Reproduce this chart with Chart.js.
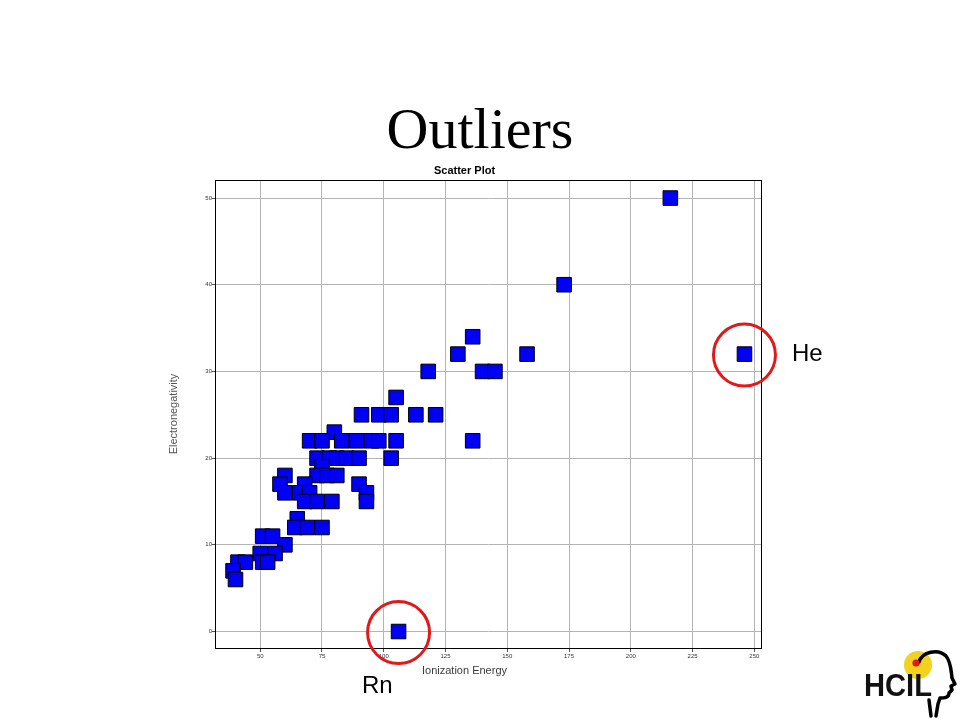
<!DOCTYPE html>
<html>
<head>
<meta charset="utf-8">
<script src="https://cdn.jsdelivr.net/npm/chart.js@4/dist/chart.umd.min.js"></script>
<style>
  html, body { margin: 0; padding: 0; background: #ffffff; }
  #wrap { position: relative; width: 960px; height: 720px; overflow: hidden; background: #fff; }
  #c { position: absolute; left: 0; top: 0; }
  .slide-title { position: absolute; left: 0; top: 100px; width: 960px; text-align: center;
    font-family: "Liberation Serif", "Times New Roman", serif; font-size: 58px; line-height: 58px; color: #000; }
  .note { position: absolute; font-family: "Liberation Sans", Arial, sans-serif; font-size: 24px; line-height: 24px; color: #000; }
  #logo { position: absolute; left: 858px; top: 640px; }
</style>
</head>
<body>
<div id="wrap">
  <div class="slide-title">Outliers</div>
  <canvas id="c" width="960" height="720"></canvas>
  <div class="note" style="left:792px; top:341px;">He</div>
  <div class="note" style="left:362px; top:673px;">Rn</div>
  <svg id="logo" width="102" height="80" viewBox="0 0 102 80">
    <circle cx="60" cy="25" r="14" fill="#f2d21c"/>
    <path d="M61 22 C 64 12, 80 8, 88 16 C 93 22, 93 30, 94 38 L 97 44 L 93 46 L 94 50 L 91 53 C 91 58, 86 58, 82 58 L 80 64 L 78 76"
          fill="none" stroke="#000" stroke-width="3.5" stroke-linejoin="round" stroke-linecap="round"/>
    <path d="M71 60 L 73 76" fill="none" stroke="#000" stroke-width="3.5" stroke-linecap="round"/>
    <text x="6" y="56" font-family="Liberation Sans, Arial, sans-serif" font-weight="bold" font-size="31"
          textLength="68" lengthAdjust="spacingAndGlyphs" fill="#111">HCIL</text>
    <circle cx="58" cy="23" r="3.6" fill="#e01818"/>
  </svg>
</div>
<script>
// ---- data ----
const ionizationEnergy = [
  216, 173, 246, 158, 130, 136, 118, 140, 145, 105,
  91, 98, 103, 113, 121, 136, 105, 80, 70, 75,
  83, 89, 95, 98, 73, 78, 81, 85, 90, 103,
  75, 73, 77, 81, 60, 58, 60, 68, 66, 70,
  68, 73, 79, 90, 93, 93, 65, 64, 69, 75,
  51, 55, 60, 50, 56, 51, 53, 41, 44, 39,
  40, 106
];
const electronegativity = [
  50, 40, 32, 32, 32, 34, 30, 30, 30, 27,
  25, 25, 25, 25, 25, 22, 22, 23, 22, 22,
  22, 22, 22, 22, 20, 20, 20, 20, 20, 20,
  19, 18, 18, 18, 18, 17, 16, 17, 16, 16,
  15, 15, 15, 17, 16, 15, 13, 12, 12, 12,
  11, 11, 10, 9, 9, 8, 8, 8, 8, 7,
  6, 0
];
const xTickValues = [50, 75, 100, 125, 150, 175, 200, 225, 250];
const yTickValues = [0, 10, 20, 30, 40, 50];
const outlierNames = ['He', 'Rn'];
const outlierX = [246, 106];
const outlierY = [32, 0];

const chartTitle = 'Scatter Plot';
const xAxisTitle = 'Ionization Energy';
const yAxisTitle = 'Electronegativity';

const points = ionizationEnergy.map((x, i) => ({ x: x, y: electronegativity[i] }));

const frame = {
  id: 'frame',
  beforeDatasetsDraw(chart) {
    const a = chart.chartArea, ctx = chart.ctx;
    ctx.save();
    ctx.strokeStyle = '#000';
    ctx.lineWidth = 1;
    ctx.strokeRect(Math.round(a.left) + 0.5, Math.round(a.top) + 0.5,
                   Math.round(a.right - a.left) - 1, Math.round(a.bottom - a.top));
    ctx.restore();
  },
  afterDraw(chart) {
    const ctx = chart.ctx, xs = chart.scales.x, ys = chart.scales.y;
    // x axis title, centred under the chart title block
    ctx.save();
    ctx.font = '11px "Liberation Sans", Arial, sans-serif';
    ctx.fillStyle = '#3a3a3a';
    ctx.textAlign = 'center';
    ctx.textBaseline = 'middle';
    const tb = chart.titleBlock;
    ctx.fillText(xAxisTitle, (tb.left + tb.right) / 2, chart.chartArea.bottom + 23);
    // red rings around the outliers
    ctx.strokeStyle = '#e01a1a';
    ctx.lineWidth = 3;
    for (let i = 0; i < outlierNames.length; i++) {
      ctx.beginPath();
      ctx.arc(xs.getPixelForValue(outlierX[i]), ys.getPixelForValue(outlierY[i]) + 1, 31, 0, Math.PI * 2);
      ctx.stroke();
    }
    ctx.restore();
  }
};

new Chart(document.getElementById('c'), {
  type: 'scatter',
  data: {
    datasets: [{
      label: 'Elements',
      data: points,
      pointStyle: 'rect',
      pointRadius: 10.3,
      pointHoverRadius: 10.3,
      backgroundColor: '#0000f5',
      borderColor: '#000000',
      borderWidth: 1
    }]
  },
  options: {
    responsive: false,
    animation: false,
    events: [],
    layout: { padding: { left: 167, right: 198, top: 165, bottom: 60 } },
    plugins: {
      legend: { display: false },
      tooltip: { enabled: false },
      title: {
        display: true,
        text: chartTitle,
        color: '#000',
        font: { family: '"Liberation Sans", Arial, sans-serif', size: 11, weight: 'bold', lineHeight: '11px' },
        padding: { top: 0, bottom: 4 }
      }
    },
    scales: {
      x: {
        type: 'linear',
        min: 31.7,
        max: 253.1,
        afterBuildTicks: (s) => { s.ticks = xTickValues.map(v => ({ value: v })); },
        afterFit: (s) => { s.height = 12; },
        border: { display: false },
        grid: { color: '#b4b4b4', lineWidth: 1, drawTicks: true, tickLength: 4, tickColor: '#555' },
        ticks: {
          padding: 1,
          maxRotation: 0,
          autoSkip: false,
          color: '#333',
          font: { family: '"Liberation Sans", Arial, sans-serif', size: 6 }
        }
      },
      y: {
        type: 'linear',
        min: -1.9,
        max: 52.08,
        afterBuildTicks: (s) => { s.ticks = yTickValues.map(v => ({ value: v })); },
        afterFit: (s) => { s.width = 48; },
        border: { display: false },
        grid: { color: '#b4b4b4', lineWidth: 1, drawTicks: true, tickLength: 3, tickColor: '#555' },
        title: {
          display: true,
          text: yAxisTitle,
          color: '#555',
          font: { family: '"Liberation Sans", Arial, sans-serif', size: 11, lineHeight: '13px' },
          padding: { top: 0, bottom: 0 }
        },
        ticks: {
          padding: 0,
          autoSkip: false,
          color: '#333',
          font: { family: '"Liberation Sans", Arial, sans-serif', size: 6 }
        }
      }
    }
  },
  plugins: [frame]
});
</script>
</body>
</html>
